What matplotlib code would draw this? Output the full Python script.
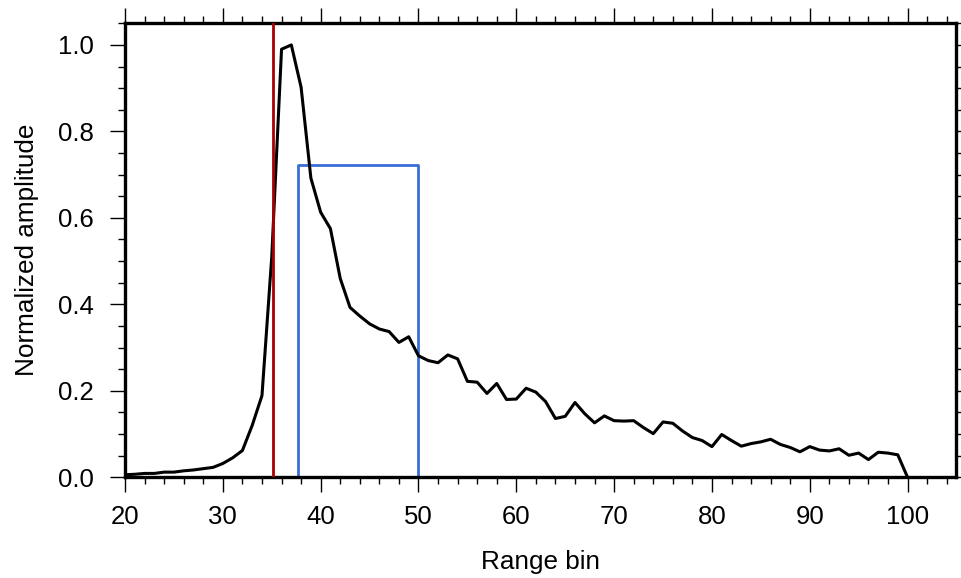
import matplotlib
matplotlib.use("Agg")
import matplotlib.pyplot as plt
from matplotlib.ticker import MultipleLocator
import numpy as np

bins = list(range(20, 101))
amplitude = [
    0.006, 0.007, 0.009, 0.009, 0.012, 0.012, 0.015, 0.017, 0.020, 0.023,  # 20-29
    0.032, 0.045, 0.062, 0.120, 0.189, 0.510, 0.990, 1.000, 0.902, 0.692,  # 30-39
    0.613, 0.575, 0.460, 0.393, 0.373, 0.355, 0.343, 0.337, 0.312, 0.325,  # 40-49
    0.281, 0.270, 0.265, 0.283, 0.274, 0.222, 0.220, 0.194, 0.217, 0.180,  # 50-59
    0.181, 0.206, 0.197, 0.175, 0.136, 0.141, 0.173, 0.147, 0.126, 0.142,  # 60-69
    0.131, 0.130, 0.131, 0.115, 0.101, 0.128, 0.125, 0.107, 0.092, 0.085,  # 70-79
    0.071, 0.099, 0.085, 0.072, 0.078, 0.082, 0.088, 0.076, 0.069, 0.059,  # 80-89
    0.071, 0.063, 0.061, 0.066, 0.051, 0.056, 0.041, 0.058, 0.056, 0.052,  # 90-99
    0.000,                                                                 # 100
]
red_line_x = 35.1
window_start = 37.7
window_end = 50.0
window_height = 0.723

x_ticks = [20, 30, 40, 50, 60, 70, 80, 90, 100]
y_ticks = [0.0, 0.2, 0.4, 0.6, 0.8, 1.0]
y_tick_labels = ["0.0", "0.2", "0.4", "0.6", "0.8", "1.0"]

plt.rcParams['font.family'] = ['Liberation Sans', 'DejaVu Sans']

fig = plt.figure(figsize=(9.61, 5.78), dpi=100)
ax = fig.add_axes([0.1301, 0.1742, 0.8652, 0.7855])

ax.plot(bins, amplitude, color='black', lw=2.2, zorder=3)
ax.axvline(red_line_x, color='#a80000', lw=2.0, zorder=4)
ax.plot([window_start, window_start, window_end, window_end],
        [0, window_height, window_height, 0], color='#3a6fd6', lw=2.0, zorder=2)

ax.set_xlim(20, 105)
ax.set_ylim(0, 1.05)
ax.set_xticks(x_ticks)
ax.set_yticks(y_ticks)
ax.set_yticklabels(y_tick_labels)
ax.xaxis.set_minor_locator(MultipleLocator(2))
ax.yaxis.set_minor_locator(MultipleLocator(0.05))

ax.tick_params(which='both', direction='out', top=True, right=True,
               width=1.0, labelsize=18.5, colors='black')
ax.tick_params(which='major', length=10.8)
ax.tick_params(which='minor', length=5.2)
ax.tick_params(axis='x', which='major', pad=9.0)
ax.tick_params(axis='y', which='major', pad=11.5)
for s in ax.spines.values():
    s.set_linewidth(2.4)

ax.set_xlabel("Range bin", fontsize=18.8, labelpad=15.5)
ax.set_ylabel("Normalized amplitude", fontsize=18.8, labelpad=13.8)

fig.savefig("out.png", dpi=100)
